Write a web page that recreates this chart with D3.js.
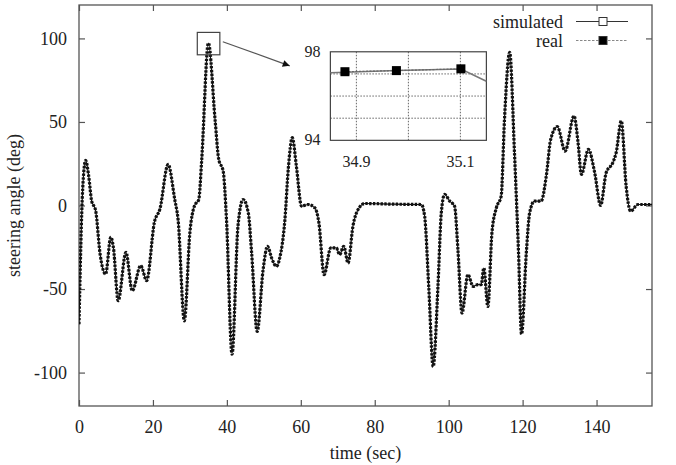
<!DOCTYPE html>
<html>
<head>
<meta charset="utf-8">
<script src="https://cdn.jsdelivr.net/npm/d3@7"></script>
<style>
body{margin:0;background:#fff;}
text{font-family:"Liberation Serif","DejaVu Serif",serif;fill:#222;}
</style>
</head>
<body>
<script>
var w = 676;
var h = 465;

/* time (sec) and steering angle (deg) */
var time = [0,1,1.8,2.6,3.4,4.5,5.7,7.2,8.6,9.3,10.6,12.7,14.4,16.7,18.3,20.4,21.9,24.1,25.9,26.8,28.5,
  30,31.2,32.4,33.2,35,36.8,37.8,39,39.9,41.4,43,44.4,45.8,46.7,48.2,49.8,51,52.1,53.4,54.3,55.7,56.6,
  57.7,58.8,60.2,62,63.8,64.9,66.3,68.1,69.6,70.5,71.6,72.8,74.1,75.5,77.3,85,92.6,93.5,94.6,95.8,97.1,
  98,98.9,100.3,101.6,102.5,103.6,105.2,106.6,107.9,108.8,109.5,110.6,111.7,112.9,114.2,115.1,116.5,
  117.8,118.9,119.7,121,121.9,123.2,125,126.4,127.6,129.4,131.5,133.9,135,135.9,137.8,139.5,141.1,
  142.6,144.4,145.3,146.7,148,149.2,151.2,155];
var simulated = [-71,10,27,18,3,-3,-29,-41,-19,-25,-57,-28,-51,-36,-45,-10,-2,24.6,3.6,-8.4,-69,
  -16,-0.4,3.6,27.6,97.2,51.6,27.6,20.6,-8.4,-89,-12.4,3.6,-4.4,-28.4,-75.4,-38.4,-24.4,-31.4,-36.4,-31.4,-8.4,21.6,
  40.6,23.6,-0.4,0.6,-1.4,-10.4,-41.4,-25.4,-25.4,-29.4,-24.4,-34.4,-12.4,-2.4,1.2,0.8,0.6,-6.4,-48.4,-96.4,-48.4,
  -4.4,6.6,2.6,-0.4,-26.4,-64.4,-41.4,-48.4,-47.4,-47.4,-37.4,-60.4,-16.4,-1.4,5.6,51.6,91.6,
  31.6,-28.4,-77,-28.4,-4.4,2.6,2.6,17.6,39.6,47.2,32.6,53.6,37.6,18.6,33.6,19.6,0,
  19.6,25.6,31.6,50.6,11.6,-3.4,0.6,0.6];
/* real run lies on top of the simulated one at this scale */
var real = [-71,10,27,18,3,-3,-29,-41,-19,-25,-57,-28,-51,-36,-45,-10,-2,24.6,3.6,-8.4,-69,
  -16,-0.4,3.6,27.6,97.2,51.6,27.6,20.6,-8.4,-89,-12.4,3.6,-4.4,-28.4,-75.4,-38.4,-24.4,-31.4,-36.4,-31.4,-8.4,21.6,
  40.6,23.6,-0.4,0.6,-1.4,-10.4,-41.4,-25.4,-25.4,-29.4,-24.4,-34.4,-12.4,-2.4,1.2,0.8,0.6,-6.4,-48.4,-96.4,-48.4,
  -4.4,6.6,2.6,-0.4,-26.4,-64.4,-41.4,-48.4,-47.4,-47.4,-37.4,-60.4,-16.4,-1.4,5.6,51.6,91.6,
  31.6,-28.4,-77,-28.4,-4.4,2.6,2.6,17.6,39.6,47.2,32.6,53.6,37.6,18.6,33.6,19.6,0,
  19.6,25.6,31.6,50.6,11.6,-3.4,0.6,0.6];

var xTicks = [0,20,40,60,80,100,120,140];
var yTicks = [-100,-50,0,50,100];

/* zoomed detail near the 35 s peak */
var insetSimTime = [34.85,34.977,35.101,35.15];
var insetSim = [97.05,97.15,97.22,96.67];
var insetRealTime = [34.878,34.977,35.101];
var insetReal = [97.1,97.15,97.23];
var insetXTicks = [34.9,35.0,35.1];
var insetXLabels = [34.9,35.1];
var insetYTicks = [95,96,97];
var insetYLabels = [94,98];

/* annotations in main data units: [t0,t1,v0,v1] */
var zoomBox = [32,38.1,90.2,103.6];
var insetBox = [68,110.2,39,92];
var arrowFrom = [38.9,98];
var arrowTo = [57,83.6];

var pL = 79, pR = 652, pT = 5, pB = 406;

var svg = d3.select("body").append("svg")
    .attr("width",w)
    .attr("height",h);

var x = d3.scaleLinear().domain([0,155]).range([pL,pR]);
var y = d3.scaleLinear().domain([-120,120]).range([pB,pT]);

var defs = svg.append("defs");
defs.append("clipPath").attr("id","plot")
  .append("rect").attr("x",pL).attr("y",pT).attr("width",pR-pL).attr("height",pB-pT);

/* plain hyphen for negatives, like the original */
function plain(d){return String(d);}

/* axes with inward ticks, mirrored */
var tick = 6;
svg.append("g").attr("transform","translate(0,"+pB+")")
  .call(d3.axisBottom(x).tickValues(xTicks).tickFormat(plain).tickSizeInner(-tick).tickSizeOuter(0).tickPadding(14))
  .call(function(g){g.select(".domain").remove();});
svg.append("g").attr("transform","translate(0,"+pT+")")
  .call(d3.axisTop(x).tickValues(xTicks).tickSizeInner(-tick).tickSizeOuter(0).tickFormat(""))
  .call(function(g){g.select(".domain").remove();});
svg.append("g").attr("transform","translate("+pL+",0)")
  .call(d3.axisLeft(y).tickValues(yTicks).tickFormat(plain).tickSizeInner(-tick).tickSizeOuter(0).tickPadding(12))
  .call(function(g){g.select(".domain").remove();});
svg.append("g").attr("transform","translate("+pR+",0)")
  .call(d3.axisRight(y).tickValues(yTicks).tickSizeInner(-tick).tickSizeOuter(0).tickFormat(""))
  .call(function(g){g.select(".domain").remove();});
svg.selectAll(".tick line").attr("stroke","#555").attr("stroke-width",1.2);
svg.selectAll(".tick text").attr("font-size",18).attr("font-family","Liberation Serif").attr("fill","#222");

svg.append("rect").attr("x",pL).attr("y",pT).attr("width",pR-pL).attr("height",pB-pT)
  .attr("fill","none").attr("stroke","#555").attr("stroke-width",1.3);

svg.append("text").attr("x",(pL+pR)/2).attr("y",459)
  .attr("text-anchor","middle").attr("font-size",18).text("time (sec)");
svg.append("text").attr("transform","translate(20,"+((pT+pB)/2)+") rotate(-90)")
  .attr("text-anchor","middle").attr("font-size",18).text("steering angle (deg)");

/* curves */
var idx = d3.range(time.length);
var lineSim = d3.line().curve(d3.curveMonotoneX)
  .x(function(i){return x(time[i]);}).y(function(i){return y(simulated[i]);});
var lineReal = d3.line().curve(d3.curveMonotoneX)
  .x(function(i){return x(time[i]);}).y(function(i){return y(real[i]);});

var plot = svg.append("g").attr("clip-path","url(#plot)");
plot.append("path").attr("d",lineSim(idx))
  .attr("fill","none").attr("stroke","#111").attr("stroke-width",1.2);
plot.append("path").attr("d",lineReal(idx))
  .attr("fill","none").attr("stroke","#111").attr("stroke-width",3.2)
  .attr("stroke-dasharray","2.4 1.4");

/* zoom box and arrow */
svg.append("rect").attr("x",x(zoomBox[0])).attr("y",y(zoomBox[3]))
  .attr("width",x(zoomBox[1])-x(zoomBox[0])).attr("height",y(zoomBox[2])-y(zoomBox[3]))
  .attr("fill","none").attr("stroke","#444").attr("stroke-width",1.2);

defs.append("marker").attr("id","head")
  .attr("viewBox","0 0 10 10").attr("refX",10).attr("refY",5)
  .attr("markerWidth",10).attr("markerHeight",7).attr("markerUnits","userSpaceOnUse")
  .attr("orient","auto")
  .append("path").attr("d","M0,0L10,5L0,10Z").attr("fill","#111");
svg.append("line").attr("x1",x(arrowFrom[0])).attr("y1",y(arrowFrom[1]))
  .attr("x2",x(arrowTo[0])).attr("y2",y(arrowTo[1]))
  .attr("stroke","#555").attr("stroke-width",1.2).attr("marker-end","url(#head)");

/* legend */
var legend = [{name:"simulated",y:21.5,fill:"#fff",dash:null},
              {name:"real",y:40.5,fill:"#000",dash:"2.5 1.5"}];
var lg = svg.append("g");
lg.selectAll("text").data(legend).enter().append("text")
  .attr("x",563).attr("y",function(d){return d.y+6;})
  .attr("text-anchor","end").attr("font-size",18)
  .text(function(d){return d.name;});
lg.selectAll("line").data(legend).enter().append("line")
  .attr("x1",576).attr("x2",628).attr("y1",function(d){return d.y;}).attr("y2",function(d){return d.y;})
  .attr("stroke",function(d){return d.dash ? "#888" : "#333";}).attr("stroke-width",1.2)
  .attr("stroke-dasharray",function(d){return d.dash;});
lg.selectAll("rect").data(legend).enter().append("rect")
  .attr("x",599).attr("y",function(d){return d.y-4;}).attr("width",8).attr("height",8)
  .attr("fill",function(d){return d.fill;}).attr("stroke","#333").attr("stroke-width",1);

/* inset */
var ix = d3.scaleLinear().domain([34.85,35.15]).range([x(insetBox[0]),x(insetBox[1])]);
var iy = d3.scaleLinear().domain([94,98]).range([y(insetBox[2]),y(insetBox[3])]);
var inset = svg.append("g");
inset.append("rect").attr("x",ix(34.85)).attr("y",iy(98))
  .attr("width",ix(35.15)-ix(34.85)).attr("height",iy(94)-iy(98))
  .attr("fill","#fff");
inset.selectAll("line.vg").data(insetXTicks).enter().append("line").attr("class","vg")
  .attr("x1",function(d){return ix(d);}).attr("x2",function(d){return ix(d);})
  .attr("y1",iy(98)).attr("y2",iy(94))
  .attr("stroke","#666").attr("stroke-width",1).attr("stroke-dasharray","1.5 1.5");
inset.selectAll("line.hg").data(insetYTicks).enter().append("line").attr("class","hg")
  .attr("y1",function(d){return iy(d);}).attr("y2",function(d){return iy(d);})
  .attr("x1",ix(34.85)).attr("x2",ix(35.15))
  .attr("stroke","#666").attr("stroke-width",1).attr("stroke-dasharray","1.5 1.5");
inset.append("rect").attr("x",ix(34.85)).attr("y",iy(98))
  .attr("width",ix(35.15)-ix(34.85)).attr("height",iy(94)-iy(98))
  .attr("fill","none").attr("stroke","#444").attr("stroke-width",1.2);

var iLineSim = d3.line().x(function(d,i){return ix(insetSimTime[i]);}).y(function(d){return iy(d);});
var iLineReal = d3.line().x(function(d,i){return ix(insetRealTime[i]);}).y(function(d){return iy(d);});
inset.append("path").attr("d",iLineSim(insetSim))
  .attr("fill","none").attr("stroke","#777").attr("stroke-width",1.5);
inset.append("path").attr("d",iLineReal(insetReal))
  .attr("fill","none").attr("stroke","#666").attr("stroke-width",1.2).attr("stroke-dasharray","2 1.5");
inset.selectAll("rect.m").data(insetReal).enter().append("rect").attr("class","m")
  .attr("x",function(d,i){return ix(insetRealTime[i])-4.5;})
  .attr("y",function(d){return iy(d)-4.5;})
  .attr("width",9).attr("height",9).attr("fill","#000");

inset.selectAll("text.ixl").data(insetXLabels).enter().append("text").attr("class","ixl")
  .attr("x",function(d){return ix(d);}).attr("y",iy(94)+27)
  .attr("text-anchor","middle").attr("font-size",16).attr("fill","#444")
  .text(function(d){return d;});
inset.selectAll("text.iyl").data(insetYLabels).enter().append("text").attr("class","iyl")
  .attr("x",ix(34.85)-10).attr("y",function(d){return iy(d)+5;})
  .attr("text-anchor","end").attr("font-size",16).attr("fill","#444")
  .text(function(d){return d;});
</script>
</body>
</html>
